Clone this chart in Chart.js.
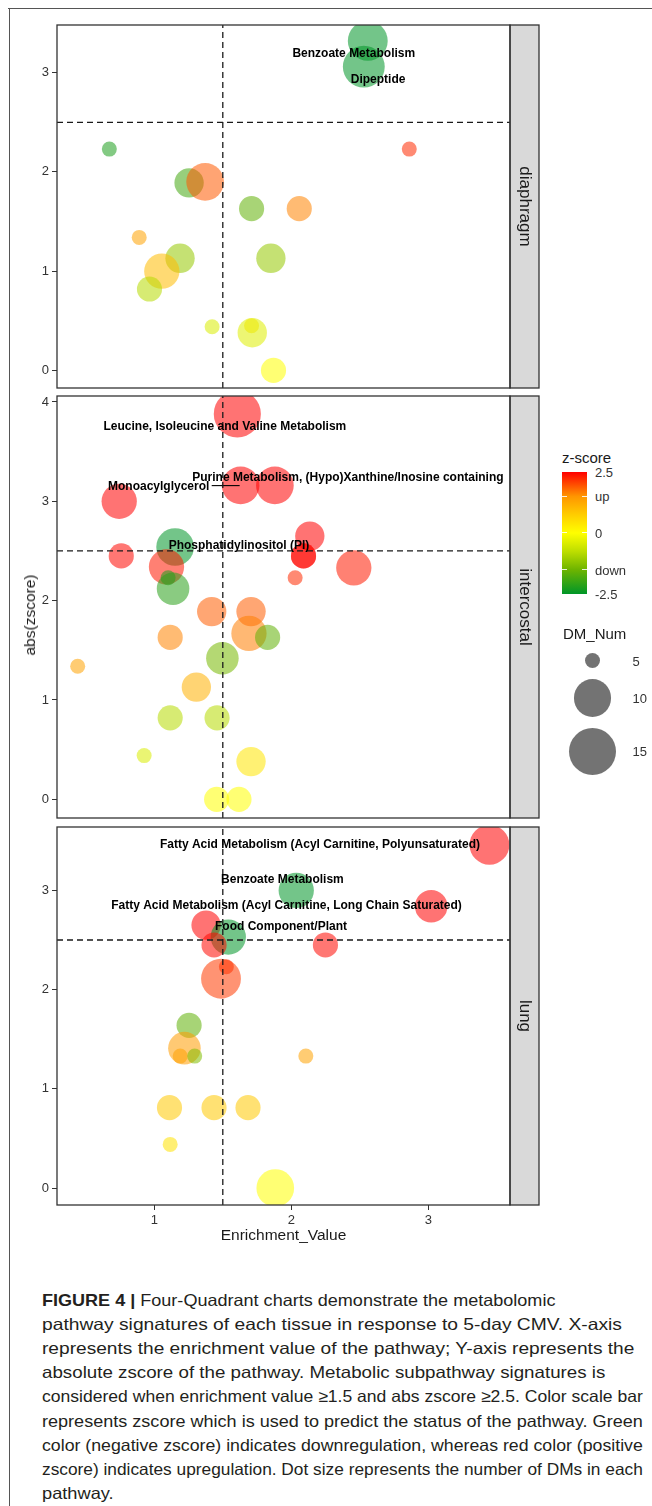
<!DOCTYPE html>
<html>
<head>
<meta charset="utf-8">
<title>Four-Quadrant charts</title>
<script src="https://cdn.jsdelivr.net/npm/chart.js@4.4.1/dist/chart.umd.min.js"></script>
<style>
  html, body { margin: 0; padding: 0; background: #fff; }
  body { width: 652px; height: 1506px; position: relative; overflow: hidden;
         font-family: "Liberation Sans", Arial, Helvetica, sans-serif; color: #1a1a1a; }
  .frame-top { position: absolute; left: 8px; top: 7.5px; right: 0; border-top: 1.5px solid #555; }
  .frame-left { position: absolute; left: 8.5px; top: 7.5px; bottom: 0; border-left: 1.5px solid #555; }
  canvas { position: absolute; left: 0; }
  .abs { position: absolute; white-space: nowrap; }
  #ytitle { left: 30px; top: 615px; font-size: 15.5px; transform: translate(-50%, -50%) rotate(-90deg); }
  .legTitle { font-size: 15px; transform: translateY(-50%); }
  .legLab { font-size: 13px; color: #333; transform: translateY(-50%); }
  .cap { position: absolute; left: 41.6px; font-size: 16.5px; line-height: 22px; height: 22px;
         white-space: nowrap; transform-origin: 0 50%; color: #231f20; }
</style>
</head>
<body>
<div class="frame-top"></div>
<div class="frame-left"></div>

<canvas id="dia" width="545" height="387" style="top:13px"></canvas>
<canvas id="int" width="545" height="446" style="top:384px"></canvas>
<canvas id="lung" width="545" height="438" style="top:815px"></canvas>

<div id="ytitle" class="abs">abs(zscore)</div>
<div id="legend"></div>

<div class="cap"><b>FIGURE 4 |</b> Four-Quadrant charts demonstrate the metabolomic</div>
<div class="cap">pathway signatures of each tissue in response to 5-day CMV. X-axis</div>
<div class="cap">represents the enrichment value of the pathway; Y-axis represents the</div>
<div class="cap">absolute zscore of the pathway. Metabolic subpathway signatures is</div>
<div class="cap">considered when enrichment value ≥1.5 and abs zscore ≥2.5. Color scale bar</div>
<div class="cap">represents zscore which is used to predict the status of the pathway. Green</div>
<div class="cap">color (negative zscore) indicates downregulation, whereas red color (positive</div>
<div class="cap">zscore) indicates upregulation. Dot size represents the number of DMs in each</div>
<div class="cap">pathway.</div>

<script>
const FONT = '"Liberation Sans", Arial, Helvetica, sans-serif';

// ---- data ----
const xTicks = [1, 2, 3];
const enrichCut = 1.5;
const zCut = 2.5;

// diaphragm
const diaEnrich = [2.558, 2.529, 0.672, 2.861, 1.254, 1.371, 1.710, 2.058, 0.890, 1.188, 1.055, 0.965, 1.851, 1.422, 1.710, 1.715, 1.870];
const diaZscore = [-3.32, -3.06, -2.23, 2.23, -1.89, 1.90, -1.63, 1.63, 1.34, -1.13, 1.00, -0.82, -1.13, -0.44, 0.45, -0.38, 0.00];
const diaDM = [11, 12, 5, 5, 7, 10, 6, 6, 5, 7, 9, 6, 7, 5, 5, 7, 6];
const diaYTicks = [0, 1, 2, 3];
const diaLabelText = ['Benzoate Metabolism', 'Dipeptide'];
const diaLabelX = [2.456, 2.633];
const diaLabelY = [3.196, 2.928];

// intercostal
const intEnrich = [1.606, 1.630, 1.880, 0.744, 1.152, 2.135, 0.759, 1.089, 2.089, 2.089, 2.456, 2.028, 1.101, 1.137, 1.419, 1.706, 1.691, 1.827, 1.116, 1.497, 0.441, 1.307, 1.116, 1.458, 0.926, 1.706, 1.455, 1.618];
const intZscore = [3.88, 3.16, 3.16, 3.00, -2.54, 2.65, 2.45, 2.34, 2.45, 2.45, 2.33, 2.23, -2.23, -2.12, 1.89, 1.89, 1.67, -1.63, 1.63, -1.42, 1.34, 1.13, -0.82, -0.82, -0.44, 0.38, 0.00, 0.00];
const intDM = [15, 10, 10, 9, 10, 7, 6, 9, 6, 6, 9, 5, 5, 8, 7, 7, 9, 6, 6, 8, 5, 7, 6, 6, 5, 7, 6, 6];
const intYTicks = [0, 1, 2, 3, 4];
const intLabelText = ['Leucine, Isoleucine and Valine Metabolism', 'Purine Metabolism, (Hypo)Xanthine/Inosine containing', 'Monoacylglycerol', 'Phosphatidylinositol (PI)'];
const intLabelX = [1.515, 2.413, 1.032, 1.618];
const intLabelY = [3.749, 3.236, 3.145, 2.551];
const intSegment = [{x: 1.419, y: 3.158}, {x: 1.623, y: 3.158}];

// lung
const lungEnrich = [3.446, 2.036, 3.021, 1.378, 1.540, 1.436, 2.249, 1.526, 1.487, 1.254, 1.220, 1.189, 1.295, 2.106, 1.111, 1.436, 1.684, 1.116, 1.883];
const lungZscore = [3.46, -3.00, 2.84, 2.65, -2.53, 2.45, 2.45, 2.23, 2.11, -1.64, 1.41, 1.33, -1.33, 1.33, 0.81, 0.81, 0.81, 0.44, 0.00];
const lungDM = [11, 9, 8, 7, 9, 6, 6, 5, 11, 6, 8, 5, 5, 5, 6, 6, 6, 5, 10];
const lungYTicks = [0, 1, 2, 3];
const lungLabelText = ['Fatty Acid Metabolism (Acyl Carnitine, Polyunsaturated)', 'Benzoate Metabolism', 'Fatty Acid Metabolism (Acyl Carnitine, Long Chain Saturated)', 'Food Component/Plant'];
const lungLabelX = [2.209, 1.935, 1.965, 1.925];
const lungLabelY = [3.458, 3.109, 2.847, 2.638];

// legends
const colorBreaks = [2.5, 1.5, 0, -1.5, -2.5];
const colorLabels = ['2.5', 'up', '0', 'down', '-2.5'];
const sizeBreaks = [5, 10, 15];

// ---- scales for colour and size ----
const zStops = [
  [-2.5, [0, 150, 40]],
  [-1.5, [110, 180, 0]],
  [-0.75, [190, 222, 0]],
  [0, [255, 255, 0]],
  [0.75, [255, 205, 0]],
  [1.5, [255, 150, 0]],
  [2.5, [255, 0, 0]]
];
const ALPHA = 0.55;

function zRgb(z) {
  const v = Math.max(-2.5, Math.min(2.5, z));
  for (let i = 1; i < zStops.length; i++) {
    const [v0, c0] = zStops[i - 1];
    const [v1, c1] = zStops[i];
    if (v <= v1) {
      const t = (v - v0) / (v1 - v0);
      return c0.map((c, k) => Math.round(c + (c1[k] - c) * t));
    }
  }
  return zStops[zStops.length - 1][1];
}
function zColor(z, a) {
  const c = zRgb(z);
  return `rgba(${c[0]},${c[1]},${c[2]},${a})`;
}
// diameter in px grows with sqrt of DM count
function dmDiameter(n) {
  return 15 + 10.15 * Math.sqrt(Math.max(n - 5, 0));
}

// ---- plugins ----
const panelFrame = {
  id: 'panelFrame',
  afterDraw(chart, args, opts) {
    const { ctx, chartArea: a } = chart;
    const h = a.bottom - a.top;
    ctx.save();
    ctx.fillStyle = '#d9d9d9';
    ctx.fillRect(a.right, a.top, 29, h);
    ctx.strokeStyle = '#333';
    ctx.lineWidth = 1.3;
    ctx.strokeRect(a.right, a.top, 29, h);
    ctx.strokeRect(a.left, a.top, a.right - a.left, h);
    ctx.translate(a.right + 14.5, a.top + h / 2);
    ctx.rotate(Math.PI / 2);
    ctx.font = '17px ' + FONT;
    ctx.fillStyle = '#1a1a1a';
    ctx.textAlign = 'center';
    ctx.textBaseline = 'middle';
    ctx.fillText(opts.strip, 0, 0);
    ctx.restore();
  }
};

const pathwayLabels = {
  id: 'pathwayLabels',
  afterDatasetsDraw(chart, args, opts) {
    const { ctx, scales: { x, y }, chartArea: a } = chart;
    ctx.save();
    ctx.beginPath();
    ctx.rect(a.left, a.top, a.right - a.left, a.bottom - a.top);
    ctx.clip();
    ctx.font = 'bold 12px ' + FONT;
    ctx.fillStyle = '#000';
    ctx.textAlign = 'center';
    ctx.textBaseline = 'middle';
    opts.text.forEach((t, i) => {
      ctx.fillText(t, x.getPixelForValue(opts.x[i]), y.getPixelForValue(opts.y[i]));
    });
    ctx.restore();
  }
};

// ---- chart builder ----
function cutLine(data) {
  return {
    type: 'line', data: data, borderColor: '#1a1a1a', borderWidth: 1.3,
    borderDash: [6, 4], pointRadius: 0, order: 0, clip: 0
  };
}

function buildPanel(id, strip, enrich, zscore, dm, yTicks, yMin, yMax, labels, showX, extra) {
  const bubbles = enrich.map((e, i) => ({ x: e, y: Math.abs(zscore[i]), r: dmDiameter(dm[i]) / 2 }));
  const datasets = [
    {
      type: 'bubble', data: bubbles,
      backgroundColor: zscore.map(z => zColor(z, ALPHA)),
      borderWidth: 0, order: 1, clip: 0
    },
    cutLine([{ x: enrichCut, y: yMin }, { x: enrichCut, y: yMax }]),
    cutLine([{ x: 0.29, y: zCut }, { x: 3.596, y: zCut }])
  ];
  (extra || []).forEach(seg => datasets.push({
    type: 'line', data: seg, borderColor: '#000', borderWidth: 1.1, pointRadius: 0, order: 0
  }));

  const tickFont = { family: FONT, size: 13 };
  return new Chart(document.getElementById(id), {
    type: 'bubble',
    data: { datasets },
    options: {
      responsive: false,
      animation: false,
      events: [],
      layout: { autoPadding: false, padding: { top: 12, bottom: showX ? 4 : 12, left: 0, right: 35 } },
      scales: {
        x: {
          type: 'linear', min: 0.29, max: 3.596, bounds: 'data',
          display: showX,
          afterBuildTicks: s => { s.ticks = xTicks.map(v => ({ value: v })); },
          afterFit: s => { s.height = showX ? 44 : 0; },
          grid: { drawOnChartArea: false, tickLength: 5, color: '#333', lineWidth: 1 },
          border: { display: false },
          ticks: { font: tickFont, color: '#333', padding: 3, maxRotation: 0, autoSkip: false },
          title: {
            display: true, text: 'Enrichment_Value', color: '#1a1a1a',
            font: { family: FONT, size: 15.5 }, padding: { top: 0, bottom: 4 }
          }
        },
        y: {
          type: 'linear', min: yMin, max: yMax, bounds: 'data',
          afterBuildTicks: s => { s.ticks = yTicks.map(v => ({ value: v })); },
          afterFit: s => { s.width = 57; },
          grid: { drawOnChartArea: false, tickLength: 5, color: '#333', lineWidth: 1 },
          border: { display: false },
          ticks: { font: tickFont, color: '#333', padding: 3 }
        }
      },
      plugins: {
        legend: { display: false },
        tooltip: { enabled: false },
        panelFrame: { strip: strip },
        pathwayLabels: labels
      }
    },
    plugins: [panelFrame, pathwayLabels]
  });
}

buildPanel('dia', 'diaphragm', diaEnrich, diaZscore, diaDM, diaYTicks, -0.177, 3.48,
  { text: diaLabelText, x: diaLabelX, y: diaLabelY }, false);
buildPanel('int', 'intercostal', intEnrich, intZscore, intDM, intYTicks, -0.188, 4.06,
  { text: intLabelText, x: intLabelX, y: intLabelY }, false, [intSegment]);
buildPanel('lung', 'lung', lungEnrich, lungZscore, lungDM, lungYTicks, -0.171, 3.639,
  { text: lungLabelText, x: lungLabelX, y: lungLabelY }, true);

// ---- legends (html) ----
const leg = document.getElementById('legend');
function add(cls, text, left, top, extra) {
  const d = document.createElement('div');
  d.className = 'abs ' + cls;
  d.textContent = text;
  d.style.left = left + 'px';
  d.style.top = top + 'px';
  if (extra) Object.assign(d.style, extra);
  leg.appendChild(d);
  return d;
}

// colour bar
const barTop = 471.7, barH = 122.3, barLeft = 562, barW = 25;
add('legTitle', 'z-score', 562, 456.7);
const grad = zStops.slice().reverse().map(([v, c]) =>
  `rgb(${c[0]},${c[1]},${c[2]}) ${((2.5 - v) / 5 * 100).toFixed(1)}%`).join(',');
add('', '', barLeft, barTop, { width: barW + 'px', height: barH + 'px', background: `linear-gradient(to bottom, ${grad})` });
colorBreaks.forEach((v, i) => {
  const y = barTop + (2.5 - v) / 5 * barH;
  add('', '', barLeft, y - 0.5, { width: '5px', height: '1px', background: 'rgba(255,255,255,0.85)' });
  add('', '', barLeft + barW - 5, y - 0.5, { width: '5px', height: '1px', background: 'rgba(255,255,255,0.85)' });
  add('legLab', colorLabels[i], 595, y);
});

// size keys
add('legTitle', 'DM_Num', 563, 633);
let keyY = 647.7;
sizeBreaks.forEach(n => {
  const d = dmDiameter(n);
  const h = d + 11;
  const cy = keyY + h / 2;
  add('', '', 592.5 - d / 2, cy - d / 2, { width: d + 'px', height: d + 'px', borderRadius: '50%', background: 'rgba(0,0,0,0.55)' });
  add('legLab', String(n), 632.5, cy);
  keyY += h;
});

// ---- caption ----
const capRight = [555, 621.6, 634, 605, 642.4, 642.4, 642.4, 642.4];
const capScales = [];
const capEls = document.querySelectorAll('.cap');
capEls.forEach((el, i) => {
  el.style.top = (1300 + i * 24.1 - 11) + 'px';
  const span = document.createElement('span');
  span.innerHTML = el.innerHTML;
  el.innerHTML = '';
  el.appendChild(span);
  if (i < capRight.length) {
    capScales.push((capRight[i] - 41.6) / span.getBoundingClientRect().width);
  }
});
const meanScale = capScales.reduce((a, b) => a + b, 0) / capScales.length;
capEls.forEach((el, i) => {
  const s = i < capScales.length ? capScales[i] : meanScale;
  el.style.transform = `scaleX(${s.toFixed(4)})`;
});
</script>
</body>
</html>
